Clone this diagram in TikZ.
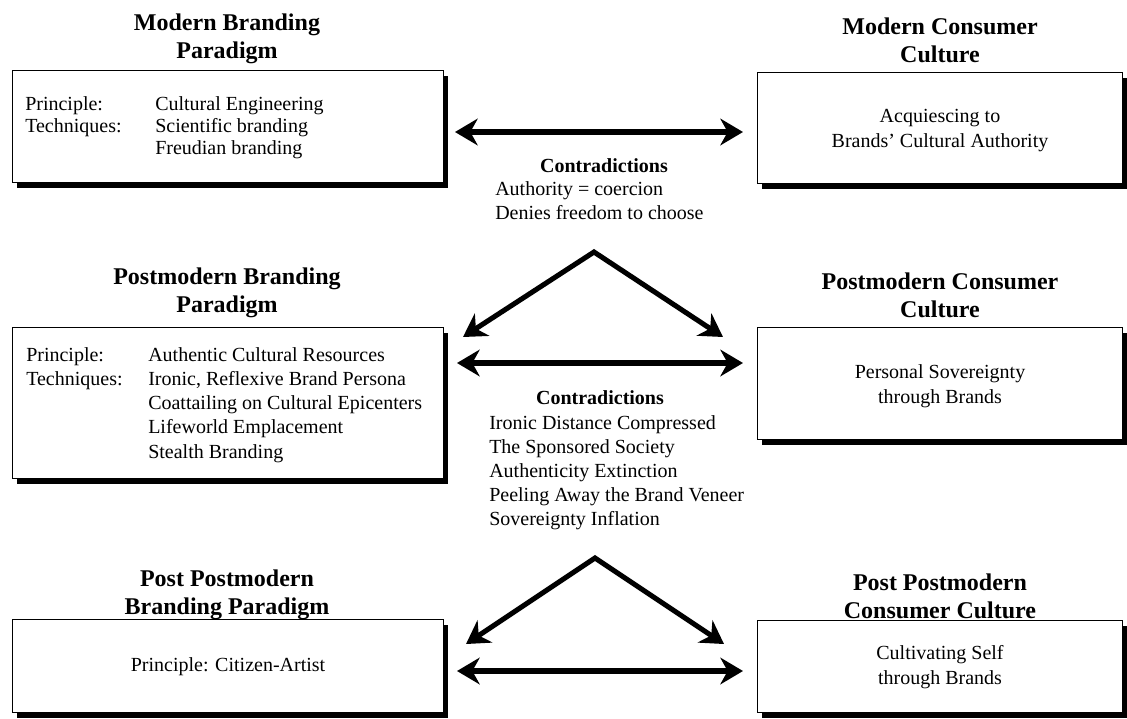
\documentclass[tikz,border=0pt]{standalone}
\usepackage{fontspec}
\setmainfont{Liberation Serif}
\usetikzlibrary{arrows.meta,shadows}
\begin{document}
\begin{tikzpicture}[x=0.75pt,y=-0.75pt,
  box/.style={draw=black, line width=1.1pt, fill=white, rectangle, inner sep=0pt, anchor=north west,
     general shadow={fill=black, shadow xshift=3pt, shadow yshift=-4pt}},
  title/.style={font=\fontsize{18}{21}\selectfont\bfseries, align=center, inner sep=0pt},
  bodyl/.style={font=\fontsize{15}{#1}\selectfont, align=left, anchor=north west, inner sep=0pt},
  bodyc/.style={font=\fontsize{15}{#1}\selectfont, align=center, inner sep=0pt},
  conhead/.style={font=\fontsize{15}{18}\selectfont\bfseries, inner sep=0pt},
  arr/.style={line width=3.8pt, {Stealth[length=17pt,width=20pt,inset=5.5pt]}-{Stealth[length=17pt,width=20pt,inset=5.5pt]}, line join=miter},
]
\fill[white] (0,0) rectangle (1127,718);
\useasboundingbox (0,0) rectangle (1127,718);

% boxes
\node[box, minimum width=323.25pt, minimum height=84pt] (tl) at (12,70) {};
\node[box, minimum width=273.75pt, minimum height=83.25pt] (tr) at (757,72) {};
\node[box, minimum width=323.25pt, minimum height=113.25pt] (ml) at (12,327) {};
\node[box, minimum width=273.75pt, minimum height=84pt] (mr) at (757,327) {};
\node[box, minimum width=323.25pt, minimum height=69.75pt] (bl) at (12,619) {};
\node[box, minimum width=273.75pt, minimum height=69pt] (br) at (757,620) {};

% titles
\node[title] (ttl) at (227,39) {Modern Branding\\Paradigm};
\node[title] (ttr) at (940,40) {Modern Consumer\\Culture};
\node[title] (tml) at (227,293) {Postmodern Branding\\Paradigm};
\node[title] (tmr) at (940,295) {Postmodern Consumer\\Culture};
\node[title] (tbl) at (227,595) {Post Postmodern\\Branding Paradigm};
\node[title] (tbr) at (940,596) {Post Postmodern\\Consumer Culture};

% box texts
\node[bodyl=16.5pt] (tlk) at (25,96) {Principle:\\Techniques:};
\node[bodyl=16.5pt] (tlv) at (155,96) {Cultural Engineering\\Scientific branding\\Freudian branding};
\node[bodyc=18.75pt] (trt) at (940,131) {Acquiescing to\\Brands' Cultural Authority};

\node[bodyl=18.2pt] (mlk) at (26,347) {Principle:\\Techniques:};
\node[bodyl=18.2pt] (mlv) at (148,347) {Authentic Cultural Resources\\Ironic, Reflexive Brand Persona\\Coattailing on Cultural Epicenters\\Lifeworld Emplacement\\Stealth Branding};
\node[bodyc=18.75pt] (mrt) at (940,386) {Personal Sovereignty\\through Brands};

\node[bodyc=18pt] (blt) at (228,667) {Principle: Citizen-Artist};
\node[bodyc=18.75pt] (brt) at (940,667) {Cultivating Self\\through Brands};

% contradictions
\node[conhead] (c1h) at (604,166) {Contradictions};
\node[bodyl=18pt] (c1l) at (495,181) {Authority = coercion\\Denies freedom to choose};
\node[conhead] (c2h) at (600,398) {Contradictions};
\node[bodyl=18pt] (c2l) at (489,415) {Ironic Distance Compressed\\The Sponsored Society\\Authenticity Extinction\\Peeling Away the Brand Veneer\\Sovereignty Inflation};

% arrows
\coordinate (a1l) at (455,132); \coordinate (a1r) at (743,132);
\coordinate (p1) at (594,252); \coordinate (p1l) at (463,337); \coordinate (p1r) at (723,337);
\coordinate (a2l) at (457,363); \coordinate (a2r) at (743,363);
\coordinate (p2) at (595,558); \coordinate (p2l) at (466,644); \coordinate (p2r) at (724,644);
\coordinate (a3l) at (457,671); \coordinate (a3r) at (743,671);

\draw[arr] (a1l) -- (a1r);
\draw[arr] (p1l) -- (p1) -- (p1r);
\draw[arr] (a2l) -- (a2r);
\draw[arr] (p2l) -- (p2) -- (p2r);
\draw[arr] (a3l) -- (a3r);
\end{tikzpicture}
\end{document}
